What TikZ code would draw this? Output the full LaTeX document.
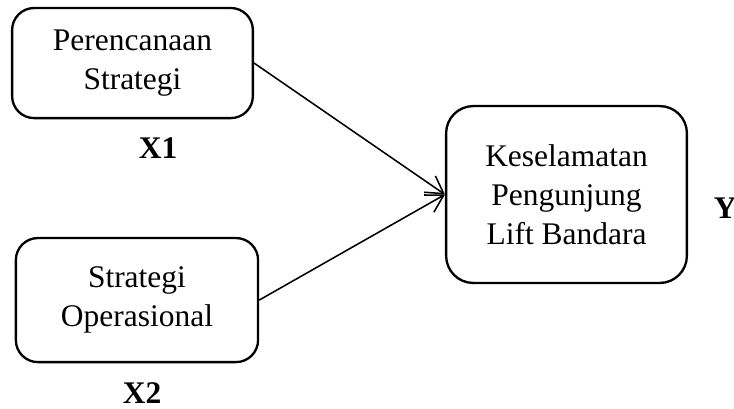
\documentclass[tikz,border=0pt]{standalone}
\usepackage{fontspec}
\setmainfont{Liberation Serif}
\usetikzlibrary{arrows.meta,positioning}
\tikzset{
  varbox/.style={rectangle, rounded corners=#1, draw=black, line width=0.9pt,
                 align=center, font=\fontsize{12.2}{15.2}\selectfont, inner sep=0pt},
  varbox/.default=0.3cm,
  varlabel/.style={font=\fontsize{12.2}{15.2}\selectfont\bfseries},
  arr/.style={-{Straight Barb[length=2.3mm,width=2.7mm]}, line width=0.6pt},
}
\begin{document}
\begin{tikzpicture}
    \useasboundingbox (0,0) rectangle (10,5.559);
    \node[varbox, minimum width=3.28cm, minimum height=1.50cm] (perencanaan) at (1.805,4.700) {Perencanaan\\Strategi};
    \node[varbox, minimum width=3.30cm, minimum height=1.69cm] (operasional) at (1.866,1.471) {Strategi\\Operasional};
    \node[varbox=0.37cm, minimum width=3.28cm, minimum height=2.41cm] (keselamatan) at (7.718,2.909) {Keselamatan\\Pengunjung\\Lift Bandara};
    \node[varlabel] (x1) at (2.153,3.542) {X1};
    \node[varlabel] (x2) at (1.935,0.204) {X2};
    \node[varlabel] (y) at (9.88,2.72) {Y};
    \draw[arr] (perencanaan.east) -- (keselamatan.west);
    \draw[arr] (operasional.east) -- (keselamatan.west);
  \end{tikzpicture}
\end{document}
